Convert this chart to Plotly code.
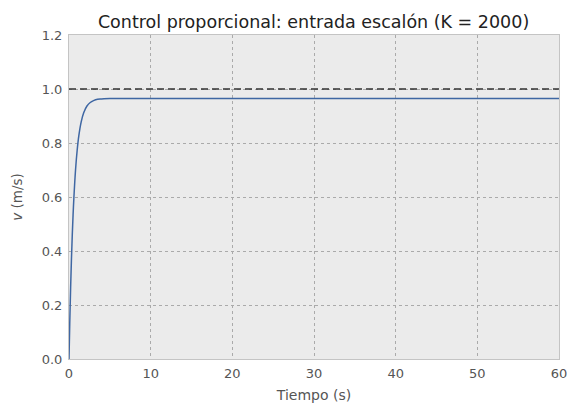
import plotly.graph_objects as go

# time samples (s) and velocity (m/s)
tiempo = [0, 0.1, 0.2, 0.3, 0.4, 0.5, 0.6, 0.8, 1.0, 1.2, 1.5, 1.8, 2.2, 2.6,
          3.0, 3.5, 4.0, 5.0, 6.0, 8.0, 10, 20, 30, 40, 50, 60]
velocidad = [0.0, 0.144, 0.266, 0.370, 0.459, 0.534, 0.598, 0.700, 0.773, 0.826,
             0.879, 0.912, 0.937, 0.950, 0.957, 0.962, 0.963, 0.965, 0.965, 0.965,
             0.965, 0.965, 0.965, 0.965, 0.965, 0.965]
referencia = 1.0
x_ticks = [0, 10, 20, 30, 40, 50, 60]
y_ticks = [0.0, 0.2, 0.4, 0.6, 0.8, 1.0, 1.2]

fig = go.Figure()
fig.add_trace(go.Scatter(x=tiempo, y=velocidad, mode="lines",
                         line=dict(color="#3F67A3", width=1.5, shape="spline"),
                         showlegend=False))
fig.add_hline(y=referencia, line=dict(color="#333333", width=1.5, dash="7px,4px"))

axis_common = dict(showgrid=True, gridcolor="#aaaaaa", griddash="dot", gridwidth=1,
                   showline=True, linecolor="#c4c4c4", linewidth=1, mirror=True,
                   zeroline=False, ticks="", ticklabeloverflow="allow", automargin=False,
                   tickfont=dict(size=13, color="#555555"))
fig.update_xaxes(range=[0, 60], tickvals=x_ticks, ticklabelstandoff=2,
                 title=dict(text="Tiempo (s)", font=dict(size=14, color="#555555"), standoff=10),
                 **axis_common)
fig.update_yaxes(range=[0, 1.2], tickvals=y_ticks, tickformat=".1f", ticklabelstandoff=3,
                 title=dict(text="<i>v</i> (m/s)", font=dict(size=13.5, color="#555555"), standoff=15),
                 **axis_common)
fig.update_layout(
    width=567, height=405,
    margin=dict(l=69, r=8, t=35, b=46, autoexpand=False),
    paper_bgcolor="white", plot_bgcolor="#ebebeb",
    font=dict(family="DejaVu Sans"),
    title=dict(text="Control proporcional: entrada escalón (K = 2000)",
               font=dict(size=17.5, color="#222222"), x=0.553, xanchor="center",
               y=0.945, yanchor="middle"),
)
fig.write_html("out.html", config={"displayModeBar": False},
               post_script="document.body.style.margin='0';")
